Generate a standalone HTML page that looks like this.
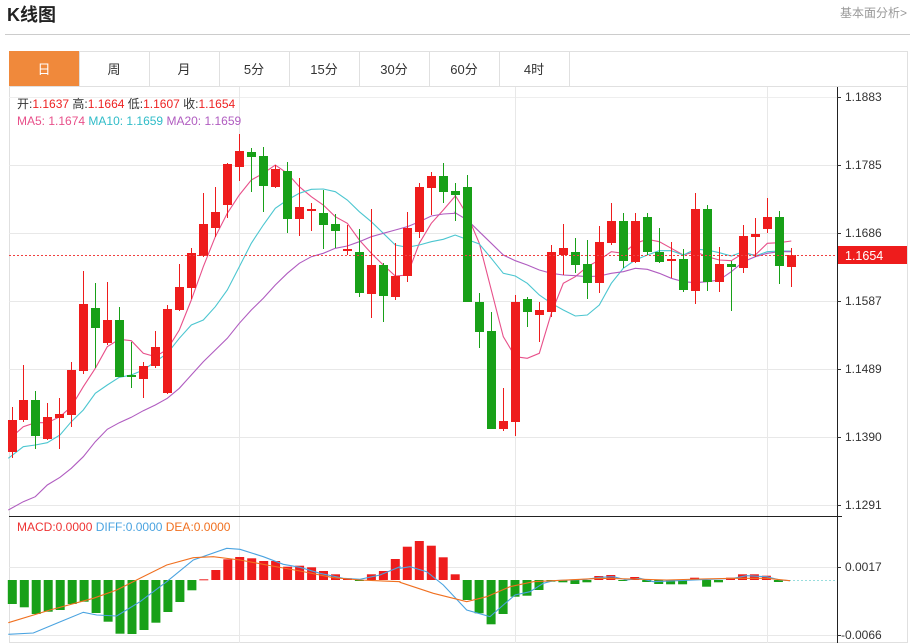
<!DOCTYPE html>
<html><head><meta charset="utf-8"><style>
body{margin:0;width:915px;height:643px;overflow:hidden;background:#fff;font-family:"Liberation Sans","Noto Sans CJK SC",sans-serif;}
</style></head><body>
<svg id="s" width="915" height="643" xmlns="http://www.w3.org/2000/svg" style="position:absolute;left:0;top:0">
<text x="7" y="21" font-size="18" font-weight="bold" fill="#222" font-family="Liberation Sans,Noto Sans CJK SC,sans-serif">K线图</text>
<text x="907" y="17" font-size="12" fill="#999" text-anchor="end" font-family="Liberation Sans,Noto Sans CJK SC,sans-serif">基本面分析&gt;</text>
<line x1="5" y1="34.5" x2="910" y2="34.5" stroke="#ccc"/>
<rect x="9.5" y="51.5" width="898" height="591" fill="none" stroke="#e0e0e0"/>
<line x1="9" y1="86.5" x2="908" y2="86.5" stroke="#e0e0e0"/>
<rect x="9" y="51" width="70" height="35" fill="#f0893b"/>
<g id="tabs" font-size="13" fill="#333" text-anchor="middle" font-family="Liberation Sans,Noto Sans CJK SC,sans-serif"></g>
<g id="grid"></g>
<g id="ma"></g>
<g id="cd"></g>
<g id="mc"></g>
<line x1="837.5" y1="87" x2="837.5" y2="643" stroke="#222"/>
<line x1="9" y1="516.5" x2="842" y2="516.5" stroke="#222"/>
<line x1="9" y1="255.5" x2="837" y2="255.5" stroke="#f04040" stroke-dasharray="2,2"/>
<rect x="838" y="246" width="69" height="18" fill="#ee1c1c"/>
<text x="845" y="260" font-size="12.5" fill="#fff" font-family="Liberation Sans,sans-serif">1.1654</text>
<g font-size="12" font-family="Liberation Sans,Noto Sans CJK SC,sans-serif">
<text x="17" y="108" fill="#333">开:<tspan fill="#e22">1.1637</tspan>   高:<tspan fill="#e22">1.1664</tspan>   低:<tspan fill="#e22">1.1607</tspan>   收:<tspan fill="#e22">1.1654</tspan></text>
<text x="17" y="125"><tspan fill="#e8508a">MA5: 1.1674</tspan>   <tspan fill="#30bcc8">MA10: 1.1659</tspan>   <tspan fill="#b05cc0">MA20: 1.1659</tspan></text>
<text x="17" y="531"><tspan fill="#e33">MACD:0.0000</tspan>   <tspan fill="#4aa3e0">DIFF:0.0000</tspan>   <tspan fill="#f07020">DEA:0.0000</tspan></text>
</g>
<g id="ax" font-size="12" fill="#333" font-family="Liberation Sans,sans-serif"></g>
</svg>
<script>
var NS="http://www.w3.org/2000/svg";
function el(p,t,a,txt){var e=document.createElementNS(NS,t);for(var k in a)e.setAttribute(k,a[k]);if(txt!=null)e.textContent=txt;document.getElementById(p).appendChild(e);return e;}
var tabs=["日","周","月","5分","15分","30分","60分","4时"];
tabs.forEach(function(t,i){el("tabs","text",{x:44+70*i,y:74,fill:i==0?"#fff":"#333"},t);if(i>0)el("tabs","line",{x1:79.5+70*(i-1),y1:51,x2:79.5+70*(i-1),y2:86,stroke:"#e0e0e0"});});
el("tabs","line",{x1:569.5,y1:51,x2:569.5,y2:86,stroke:"#e0e0e0"});
[165,233,301,369,437,505].forEach(function(y){el("grid","line",{x1:9,y1:y+.5,x2:837,y2:y+.5,stroke:"#e8e8e8"});});
el("grid","line",{x1:9,y1:97.5,x2:837,y2:97.5,stroke:"#eee"});
el("grid","line",{x1:9,y1:567.5,x2:837,y2:567.5,stroke:"#e8e8e8"});
el("grid","line",{x1:9,y1:635.5,x2:837,y2:635.5,stroke:"#e8e8e8"});
[239,515,767].forEach(function(x){el("grid","line",{x1:x+.5,y1:87,x2:x+.5,y2:643,stroke:"#e8e8e8"});});
var ax=[[97,"1.1883"],[165,"1.1785"],[233,"1.1686"],[301,"1.1587"],[369,"1.1489"],[437,"1.1390"],[505,"1.1291"],[567,"0.0017"],[635,"-0.0066"]];
ax.forEach(function(a){el("ax","line",{x1:837,y1:a[0]+.5,x2:841,y2:a[0]+.5,stroke:"#333"});el("ax","text",{x:a[1][0]=="-"?841:845,y:a[0]+4},a[1]);});
var C=[[12,420,452,407,458,1],[23,400,420,365,422,1],[35,400,436,391,449,0],[47,417,439,403,440,1],[59,414,418,398,449,1],[71,370,415,362,427,1],[83,304,371,271,374,1],[95,308,328,283,368,0],[107,320,343,282,345,1],[119,320,377,307,377,0],[131,375,377,342,388,0],[143,366,379,362,398,1],[155,347,366,331,368,1],[167,309,393,305,394,1],[179,287,310,264,311,1],[191,253,288,248,299,1],[203,224,256,193,257,1],[215,212,228,187,237,1],[227,164,205,163,218,1],[239,151,167,134,181,1],[251,152,157,148,192,0],[263,156,186,147,212,0],[275,169,187,165,188,1],[287,171,219,162,233,0],[299,207,219,178,236,1],[311,209,211,203,231,1],[323,213,225,190,249,0],[335,224,231,214,248,0],[347,249,251,225,255,1],[359,252,293,229,297,0],[371,265,294,209,318,1],[383,265,296,263,322,0],[395,276,297,243,300,1],[407,228,276,212,282,1],[419,187,232,183,238,1],[431,176,188,172,215,1],[443,176,192,163,203,0],[455,191,195,183,221,0],[467,187,302,175,302,0],[479,302,332,293,348,0],[491,331,429,312,429,0],[503,421,429,388,431,1],[515,302,422,295,436,1],[527,299,312,297,327,0],[539,310,315,302,342,1],[551,252,312,245,317,1],[563,248,255,224,275,1],[575,252,265,238,273,0],[587,264,283,240,299,0],[599,242,283,226,293,1],[611,221,243,203,245,1],[623,221,261,213,268,0],[635,221,262,213,263,1],[647,217,252,213,255,0],[659,252,262,228,263,0],[671,259,261,242,278,1],[683,259,290,249,292,0],[695,209,291,193,304,1],[707,209,282,205,291,0],[719,264,282,247,292,1],[731,264,267,261,311,0],[743,236,268,225,273,1],[755,234,237,218,257,1],[767,217,229,198,233,1],[779,217,266,211,284,0],[791,255,267,248,287,1]];
C.forEach(function(c){var col=c[5]?"#ee1c1c":"#18a018";el("cd","line",{x1:c[0]+.5,y1:c[3],x2:c[0]+.5,y2:c[4],stroke:col});el("cd","rect",{x:c[0]-4,y:c[1],width:9,height:Math.max(2,c[2]-c[1]),fill:col});});
function line(p,z2,z3,col){var pts=[];z2.forEach(function(q){pts.push((q[0]/3).toFixed(1)+","+(140+q[1]/3).toFixed(1));});z3.forEach(function(q){pts.push((455+q[0]/3).toFixed(1)+","+(140+q[1]/3).toFixed(1));});el(p,"polyline",{points:pts.join(" "),fill:"none",stroke:col,"stroke-width":1.1});}
line("ma",[[25,900],[70,860],[106,848],[142,848],[180,830],[214,800],[250,740],[286,685],[322,620],[358,598],[394,602],[430,640],[466,650],[502,628],[538,570],[574,480],[610,380],[646,290],[682,220],[718,165],[754,120],[790,100],[826,75],[862,100],[898,140],[934,170],[970,195],[1006,230],[1042,250],[1078,300],[1114,340],[1150,375],[1186,408],[1222,405],[1258,310],[1294,250],[1330,210],[1366,168]],[[0,165],[37,225],[73,310],[109,450],[145,590],[181,650],[217,655],[253,640],[289,520],[325,430],[361,410],[397,380],[433,360],[469,335],[505,340],[541,310],[577,298],[613,305],[649,325],[685,345],[721,335],[757,350],[793,360],[829,362],[865,340],[901,345],[937,310],[973,308],[1009,303]],"#e8508a");
line("ma",[[25,955],[70,920],[106,915],[142,908],[180,885],[214,845],[250,810],[286,760],[322,735],[358,712],[394,705],[430,690],[466,665],[502,640],[538,595],[574,555],[610,540],[646,500],[682,450],[718,380],[754,310],[790,255],[826,205],[862,180],[898,160],[934,148],[970,147],[1006,155],[1042,180],[1078,215],[1114,245],[1150,280],[1186,315],[1222,322],[1258,315],[1294,305],[1330,298],[1366,285]],[[0,285],[73,312],[109,355],[145,400],[181,408],[217,430],[253,465],[289,490],[325,510],[361,528],[397,525],[433,495],[469,430],[505,385],[541,360],[577,345],[613,332],[649,332],[685,345],[721,328],[757,330],[793,338],[829,348],[865,335],[901,348],[937,335],[973,333],[1009,333]],"#4cc6d0");
line("ma",[[25,1110],[70,1085],[106,1070],[142,1035],[180,1012],[214,985],[250,950],[286,905],[322,868],[358,848],[394,832],[430,812],[466,795],[502,775],[538,745],[574,705],[610,665],[646,630],[682,595],[718,550],[754,510],[790,475],[826,435],[862,400],[898,370],[934,350],[970,340],[1006,325],[1042,318],[1078,305],[1114,290],[1150,280],[1186,270],[1222,260],[1258,245],[1294,228],[1330,222],[1366,220]],[[0,218],[37,240],[73,275],[109,310],[145,345],[181,362],[217,375],[253,390],[289,400],[325,405],[361,407],[397,410],[433,408],[469,400],[505,395],[541,385],[577,388],[613,400],[649,415],[685,425],[721,428],[757,425],[793,420],[829,395],[865,365],[901,350],[937,340],[973,335],[1009,335]],"#b05cc0");
var B=[207,217,237,230,225,207,200,234,260,296,297,285,263,231,201,166,133,105,73,66,70,78,78,95,92,97,108,118,130,136,118,108,72,35,18,32,67,118,195,235,268,237,185,182,165,140,142,147,142,123,120,136,126,141,147,148,148,128,155,142,128,118,118,122,141];
var Z=580;
B.forEach(function(v,i){var x=12.3+i*11.97;var y=535+v/3;var col=v<135?"#ee1c1c":"#18a018";var t=Math.min(y,Z),h=Math.max(1,Math.abs(y-Z));el("mc","rect",{x:(x-4.5).toFixed(1),y:t.toFixed(1),width:9,height:h.toFixed(1),fill:col});});
el("mc","line",{x1:785,y1:Z+.5,x2:836,y2:Z+.5,stroke:"#9dd","stroke-dasharray":"2,2"});
function ml(a,b,col){var pts=[];a.forEach(function(q){pts.push((q[0]/3).toFixed(1)+","+(535+q[1]/3).toFixed(1));});b.forEach(function(q){pts.push((400+q[0]/3).toFixed(1)+","+(535+q[1]/3).toFixed(1));});el("mc","polyline",{points:pts.join(" "),fill:"none",stroke:col,"stroke-width":1.1});}
ml([[25,298],[100,294],[170,265],[250,232],[290,240],[350,243],[420,200],[500,140],[580,75],[680,40],[720,43],[790,65],[850,88],[900,97],[960,115],[1030,130],[1080,133],[1140,120],[1200,95]],[[0,100],[30,95],[80,110],[130,150],[200,225],[270,245],[310,210],[345,180],[390,170],[430,145],[460,137],[560,133],[600,127],[640,125],[680,135],[720,130],[760,140],[1000,130],[1040,122],[1100,125],[1140,135],[1170,137]],"#4aa3e0");
ml([[25,263],[150,225],[280,190],[350,165],[420,130],[500,90],[580,68],[640,65],[720,75],[800,90],[900,108],[1000,128],[1080,135],[1200,140]],[[0,142],[100,175],[200,200],[260,185],[330,155],[400,140],[460,137],[600,130],[700,132],[800,135],[900,132],[1000,130],[1100,130],[1170,137]],"#f07020");
</script>
</body></html>
